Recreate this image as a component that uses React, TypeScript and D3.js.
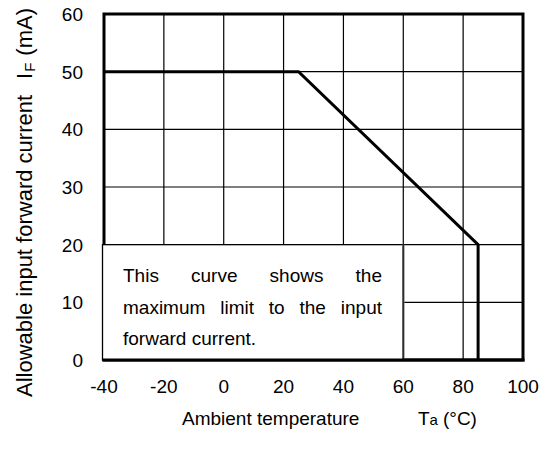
import React from 'react';
import * as d3 from 'd3';

// Data

const xTicks = [-40, -20, 0, 20, 40, 60, 80, 100];
const yTicks = [0, 10, 20, 30, 40, 50, 60];

// derating curve: ambient temperature (°C) vs allowable forward current (mA)
const curveTemp = [-40, 25, 85, 85];
const curveCurrent = [50, 50, 20, 0];

const noteLines = [
    { words: ['This', 'curve', 'shows', 'the'], justify: true },
    { words: ['maximum', 'limit', 'to', 'the', 'input'], justify: true },
    { words: ['forward', 'current.'], justify: false },
];

const noteBox = { t0: -40, t1: 60, i0: 0, i1: 20 };

const FONT = 'Arial, "Liberation Sans", Helvetica, sans-serif';

function DeratingChart() {
    const ref = React.useRef<SVGSVGElement>(null);

    React.useEffect(() => {
        const width = 539;
        const height = 450;
        const margin = { top: 14, right: 16, bottom: 90, left: 104 };

        const x = d3.scaleLinear().domain([-40, 100]).range([margin.left, width - margin.right]);
        const y = d3.scaleLinear().domain([0, 60]).range([height - margin.bottom, margin.top]);

        const svg = d3.select(ref.current)
            .attr('width', width)
            .attr('height', height)
            .attr('viewBox', `0 0 ${width} ${height}`);
        svg.selectAll('*').remove();

        const [x0, x1] = x.range();
        const [yb, yt] = y.range();

        // grid
        const grid = svg.append('g').attr('stroke', '#000').attr('stroke-width', 1.2);
        grid.selectAll('line.v').data(xTicks.slice(1, -1)).join('line')
            .attr('class', 'v')
            .attr('x1', (d) => x(d)).attr('x2', (d) => x(d))
            .attr('y1', yt).attr('y2', yb);
        grid.selectAll('line.h').data(yTicks.slice(1, -1)).join('line')
            .attr('class', 'h')
            .attr('x1', x0).attr('x2', x1)
            .attr('y1', (d) => y(d)).attr('y2', (d) => y(d));

        // frame
        svg.append('rect')
            .attr('x', x0).attr('y', yt)
            .attr('width', x1 - x0).attr('height', yb - yt)
            .attr('fill', 'none').attr('stroke', '#000').attr('stroke-width', 3);

        // note box
        const bx0 = x(noteBox.t0) - 1.5;
        const bx1 = x(noteBox.t1);
        const by0 = y(noteBox.i1);
        const by1 = y(noteBox.i0);
        svg.append('rect')
            .attr('x', bx0).attr('y', by0)
            .attr('width', bx1 - bx0).attr('height', by1 - by0)
            .attr('fill', '#fff').attr('stroke', '#000').attr('stroke-width', 1.3);
        svg.append('line')
            .attr('x1', bx1).attr('x2', bx1).attr('y1', by0).attr('y2', by1)
            .attr('stroke', '#777').attr('stroke-width', 2.5);
        svg.append('line')
            .attr('x1', bx1).attr('x2', bx1).attr('y1', by0).attr('y2', by1)
            .attr('stroke', '#000').attr('stroke-width', 0.8);
        // bottom axis drawn again over the box
        svg.append('line')
            .attr('x1', x0 - 1.5).attr('x2', x1 + 1.5).attr('y1', yb).attr('y2', yb)
            .attr('stroke', '#000').attr('stroke-width', 3);

        // note text, justified
        const textL = 123;
        const textR = 382;
        const noteG = svg.append('g')
            .attr('font-family', FONT).attr('font-size', 19).attr('fill', '#000');
        noteLines.forEach((line, li) => {
            const baseY = 282 + li * 31.5;
            const nodes = line.words.map((w) => noteG.append('text').attr('y', baseY).text(w));
            const widths = nodes.map((n) => (n.node() as SVGTextElement).getComputedTextLength());
            const total = d3.sum(widths);
            const gap = line.justify && nodes.length > 1
                ? (textR - textL - total) / (nodes.length - 1)
                : 5.3;
            let cx = textL;
            nodes.forEach((n, i) => {
                n.attr('x', cx);
                cx += widths[i] + gap;
            });
        });

        // curve
        const pts = curveTemp.map((t, i) => [t, curveCurrent[i]] as [number, number]);
        svg.append('path')
            .datum(pts)
            .attr('d', d3.line<[number, number]>().x((d) => x(d[0])).y((d) => y(d[1])))
            .attr('fill', 'none').attr('stroke', '#000').attr('stroke-width', 3)
            .attr('stroke-linejoin', 'miter');

        // tick labels
        const tickG = svg.append('g').attr('font-family', FONT).attr('font-size', 19).attr('fill', '#000');
        tickG.selectAll('text.x').data(xTicks).join('text')
            .attr('class', 'x')
            .attr('x', (d) => x(d)).attr('y', yb + 33)
            .attr('text-anchor', 'middle')
            .text((d) => String(d));
        tickG.selectAll('text.y').data(yTicks).join('text')
            .attr('class', 'y')
            .attr('x', x0 - 21).attr('y', (d) => y(d) + 7)
            .attr('text-anchor', 'end')
            .text((d) => String(d));

        // x title
        const xt = svg.append('text')
            .attr('font-family', FONT).attr('font-size', 19).attr('fill', '#000')
            .attr('x', 182).attr('y', 425);
        xt.append('tspan').text('Ambient temperature');
        xt.append('tspan').attr('x', 418).text('T');
        xt.append('tspan').attr('font-size', 15).text('a');
        xt.append('tspan').attr('dx', 5).text('(°C)');

        // y title
        const yTitle = svg.append('text')
            .attr('font-family', FONT).attr('font-size', 22).attr('fill', '#000')
            .attr('transform', 'translate(32,397) rotate(-90)');
        yTitle.append('tspan').text('Allowable input forward current');
        yTitle.append('tspan').attr('dx', 16).text('I');
        yTitle.append('tspan').attr('font-size', 15).attr('dy', 3).attr('dx', 1).text('F');
        yTitle.append('tspan').attr('dy', -3).attr('dx', 7).text('(mA)');
    }, []);

    return <svg ref={ref} style={{ display: 'block', position: 'absolute', left: 0, top: 0 }} />;
}

export default function App() {
    return <DeratingChart />;
}
